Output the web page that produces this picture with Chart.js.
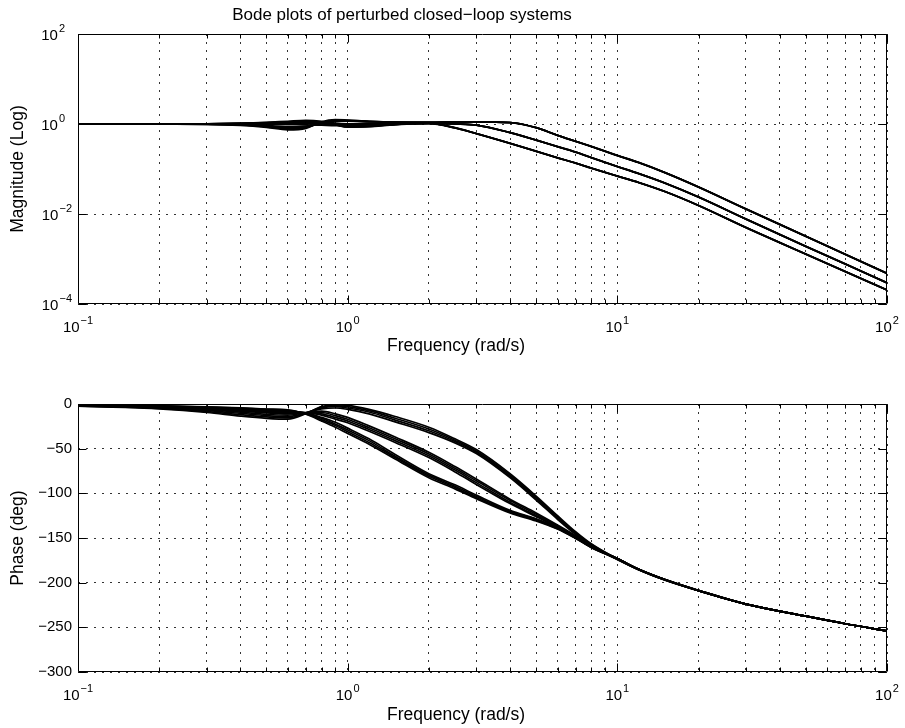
<!DOCTYPE html>
<html><head><meta charset="utf-8">
<script src="https://cdn.jsdelivr.net/npm/chart.js@4.4.1/dist/chart.umd.min.js"></script>
<style>
html,body{margin:0;padding:0;background:#fff;width:905px;height:728px;overflow:hidden}
canvas{position:absolute;left:0}
#c1{top:0}
#c2{top:364px}
</style></head><body>
<canvas id="c1" width="905" height="364"></canvas>
<canvas id="c2" width="905" height="364"></canvas>
<script>
// ---------- data ----------
const freq = [0.1,0.15,0.2,0.3,0.4,0.5,0.6,0.7,0.8,0.9,1,1.2,1.5,2,2.5,3,4,5,6,7,8,10,12,15,20,30,50,70,100];
const xTickValues = [0.1,0.2,0.3,0.4,0.5,0.6,0.7,0.8,0.9,1,2,3,4,5,6,7,8,9,10,20,30,40,50,60,70,80,90,100];
const xMajorTicks = [0.1,1,10,100];
const magTickValues = [1e-4,1e-2,1,100];
const phaseTickValues = [0,-50,-100,-150,-200,-250,-300];

// magnitude (absolute) per perturbed system
const magA1 = [1,1,0.99,0.98,0.93,0.84,0.74,0.8,1.12,1.25,1.22,1.15,1.1,1.09,1.11,1.12,1.08,0.83,0.56,0.413,0.318,0.2,0.139,0.0835,0.0398,0.0129,0.0032,0.00127,0.00048];
const magA2 = [1,1,0.99,0.985,0.95,0.87,0.78,0.83,1.08,1.21,1.2,1.14,1.1,1.09,1.11,1.12,1.08,0.83,0.561,0.414,0.319,0.201,0.14,0.0838,0.04,0.013,0.00321,0.00128,0.000482];
const magA3 = [1,1,0.995,0.99,0.96,0.9,0.82,0.86,1.04,1.17,1.18,1.13,1.1,1.09,1.11,1.115,1.075,0.828,0.559,0.412,0.317,0.199,0.139,0.0832,0.0397,0.0129,0.00319,0.00127,0.000479];
const magA4 = [1,1,0.995,0.99,0.97,0.93,0.86,0.9,1.01,1.12,1.15,1.12,1.09,1.085,1.105,1.115,1.075,0.826,0.558,0.411,0.316,0.198,0.138,0.083,0.0396,0.0128,0.00318,0.00126,0.000477];
const magB1 = [1,1,1,1.01,1.03,1.06,1.09,1.1,1.06,1.02,1.01,1.03,1.05,1.05,1.01,0.95,0.647,0.44,0.316,0.239,0.18,0.114,0.0794,0.0489,0.0239,0.00774,0.00192,0.000779,0.000297];
const magB2 = [1,1,1,1.005,1.02,1.04,1.06,1.07,1.04,1.0,0.98,1.0,1.04,1.05,1.01,0.948,0.645,0.439,0.315,0.238,0.18,0.114,0.0792,0.0488,0.0238,0.00772,0.00191,0.000777,0.000296];
const magB3 = [1,1,1,1.0,1.01,1.02,1.03,1.03,1.01,0.97,0.95,0.98,1.03,1.045,1.008,0.946,0.643,0.438,0.314,0.237,0.179,0.1135,0.079,0.0487,0.0238,0.0077,0.0019,0.000775,0.000295];
const magB4 = [1,1,1,0.995,0.99,0.98,0.97,0.96,0.94,0.92,0.92,0.96,1.02,1.045,1.006,0.944,0.641,0.437,0.313,0.236,0.178,0.113,0.0788,0.0486,0.0237,0.00768,0.00189,0.000772,0.000294];
const magC1 = [1,1,1,1.01,1.04,1.09,1.15,1.2,1.14,1.0,0.89,0.9,0.98,1.03,0.83,0.615,0.374,0.249,0.178,0.136,0.105,0.0698,0.0502,0.0316,0.0155,0.00501,0.00129,0.000527,0.000205];
const magC2 = [1,1,1,1.005,1.03,1.07,1.12,1.16,1.11,0.98,0.87,0.89,0.98,1.03,0.825,0.614,0.373,0.248,0.178,0.136,0.105,0.0697,0.0501,0.0316,0.0155,0.005,0.00129,0.000526,0.000205];
const magC3 = [1,1,1,1.0,1.02,1.05,1.09,1.12,1.08,0.96,0.86,0.88,0.97,1.025,0.82,0.612,0.372,0.248,0.177,0.135,0.1045,0.0695,0.05,0.0315,0.0154,0.00499,0.00128,0.000525,0.000204];
const magC4 = [1,1,1,1.0,1.01,1.03,1.06,1.08,1.05,0.95,0.85,0.87,0.97,1.02,0.815,0.61,0.371,0.247,0.177,0.135,0.104,0.0693,0.0499,0.0315,0.0154,0.00498,0.00128,0.000524,0.000204];

// phase (deg) per perturbed system
const phA1 = [-2.5,-3.8,-5.5,-9.5,-13.5,-16,-17,-11,-3,-1,-1.5,-6,-14,-26,-39,-51,-78,-103,-125,-143,-156.5,-173.5,-185.5,-197,-209,-224,-237.5,-246,-254];
const phA2 = [-2.2,-3.4,-5,-8.5,-12,-14.5,-15.5,-10.5,-3.5,-2,-3,-7.5,-16,-28,-40.5,-52.5,-79.5,-104.5,-126.5,-144,-157,-173.5,-185.5,-197,-209,-224,-237.5,-246,-254];
const phA3 = [-2,-3,-4.5,-7.5,-10.5,-13,-14,-10,-4.5,-3,-4.5,-9,-18,-30,-42,-54,-81,-106,-128,-145,-158,-174,-185.5,-197,-209,-224,-237.5,-246,-254];
const phA4 = [-1.8,-2.7,-4,-6.5,-9,-11.5,-12.5,-9.5,-5.5,-4.5,-6,-11,-20,-32,-43.5,-55.5,-82.5,-107.5,-129,-146,-159,-174,-185.5,-197,-209,-224,-237.5,-246,-254];
const phB1 = [-1.6,-2.4,-3.5,-5.8,-8,-10,-11,-10,-8,-11,-15,-24.5,-37,-54,-70,-84,-106.5,-122,-135.5,-147.5,-159,-173,-185,-196.5,-209,-224,-237.5,-246,-254];
const phB2 = [-1.5,-2.2,-3.2,-5.2,-7.2,-9,-10,-10,-9.5,-13,-17,-26.5,-39,-56,-72,-86,-108,-123.5,-136.5,-148,-159.5,-173,-185,-196.5,-209,-224,-237.5,-246,-254];
const phB3 = [-1.4,-2.1,-3,-4.8,-6.5,-8.2,-9.2,-10,-11,-15,-19,-28.5,-41,-58,-74,-88,-110,-125,-137.5,-149,-160,-173,-185,-196.5,-209,-224,-237.5,-246,-254];
const phB4 = [-1.3,-2,-2.8,-4.5,-6,-7.5,-8.5,-10,-12.5,-17,-21,-30.5,-43,-60,-76,-90,-111.5,-126,-138.5,-150,-160.5,-173.5,-185,-196.5,-209,-224,-237.5,-246,-254];
const phC1 = [-1.2,-1.8,-2.6,-4,-5.5,-7,-8,-10,-15,-20.5,-27,-39,-56.5,-78,-90.5,-102,-119,-128.5,-138.5,-149,-159.5,-173,-185,-196.5,-208.5,-224,-237.5,-246,-254];
const phC2 = [-1.1,-1.7,-2.4,-3.7,-5,-6.5,-7.5,-10.5,-16,-22.5,-29,-41,-58.5,-79.5,-92,-103.5,-120,-129,-139,-149.5,-160,-173,-185,-196.5,-208.5,-224,-237.5,-246,-254];
const phC3 = [-1,-1.5,-2.2,-3.4,-4.7,-6,-7,-11,-17.5,-24,-31,-43,-60,-81,-93.5,-105,-121,-130,-139.5,-150,-160,-173,-185,-196.5,-208.5,-224,-237.5,-246,-254];
const phC4 = [-1,-1.4,-2,-3.2,-4.4,-5.7,-6.6,-11.5,-19,-26,-33,-45,-61.5,-82.5,-95,-106,-122,-131,-140,-150.5,-160.5,-173.5,-185,-196.5,-208.5,-224,-237.5,-246,-254];

const magCurves = [magA1,magA2,magA3,magA4,magB1,magB2,magB3,magB4,magC1,magC2,magC3,magC4];
const phaseCurves = [phA1,phA2,phA3,phA4,phB1,phB2,phB3,phB4,phC1,phC2,phC3,phC4];

const titleText = 'Bode plots of perturbed closed\u2212loop systems';
const xLabelText = 'Frequency (rad/s)';
const magLabelText = 'Magnitude (Log)';
const phaseLabelText = 'Phase (deg)';

// ---------- drawing ----------
const FONT = '"Liberation Sans", Arial, Helvetica, sans-serif';
const TICK_PX = 15, EXP_PX = 11, LABEL_PX = 17.5;

function powLabel(ctx, exp, x, baseY, align) {
  const expStr = exp < 0 ? '\u2212' + Math.abs(exp) : String(exp);
  ctx.font = TICK_PX + 'px ' + FONT;
  const wb = ctx.measureText('10').width;
  ctx.font = EXP_PX + 'px ' + FONT;
  const we = ctx.measureText(expStr).width;
  const total = wb + 1 + we;
  const left = align === 'center' ? x - total / 2 : x - total;
  ctx.textAlign = 'left';
  ctx.textBaseline = 'alphabetic';
  ctx.font = TICK_PX + 'px ' + FONT;
  ctx.fillText('10', left, baseY);
  ctx.font = EXP_PX + 'px ' + FONT;
  ctx.fillText(expStr, left + wb + 1, baseY - 8);
}

const framePlugin = {
  id: 'frame',
  afterDraw(chart, args, o) {
    const ctx = chart.ctx, a = chart.chartArea, xs = chart.scales.x, ys = chart.scales.y;
    ctx.save();
    ctx.strokeStyle = '#000';
    ctx.lineWidth = 1;
    const L = Math.round(a.left) + 0.5, R = Math.round(a.right) - 0.5, T = Math.round(a.top) + 0.5, B = Math.round(a.bottom) - 0.5;
    ctx.beginPath();
    ctx.rect(L, T, R - L, B - T);
    for (const v of xTickValues) {
      const px = Math.round(xs.getPixelForValue(v)) + 0.5;
      const len = xMajorTicks.includes(v) ? 8 : 4;
      ctx.moveTo(px, B); ctx.lineTo(px, B - len);
      ctx.moveTo(px, T); ctx.lineTo(px, T + len);
    }
    for (const v of o.yTicks) {
      const py = Math.round(ys.getPixelForValue(v)) + 0.5;
      ctx.moveTo(L, py); ctx.lineTo(L + 8, py);
      ctx.moveTo(R, py); ctx.lineTo(R - 8, py);
    }
    ctx.stroke();
    ctx.fillStyle = '#000';
    for (const v of xMajorTicks) {
      powLabel(ctx, Math.round(Math.log10(v)), xs.getPixelForValue(v), a.bottom + 28, 'center');
    }
    if (o.logY) {
      for (const v of o.yTicks) {
        const e = Math.round(Math.log10(v));
        powLabel(ctx, e, e < 0 ? 72 : 65, ys.getPixelForValue(v) + 6, 'right');
      }
    }
    ctx.font = LABEL_PX + 'px ' + FONT;
    ctx.textAlign = 'center';
    ctx.textBaseline = 'alphabetic';
    ctx.fillText(xLabelText, 456, a.bottom + o.xLabelGap);
    ctx.save();
    ctx.translate(23, (a.top + a.bottom) / 2);
    ctx.rotate(-Math.PI / 2);
    ctx.fillText(o.yLabel, 0, 0);
    ctx.restore();
    if (o.title) {
      ctx.font = '17px ' + FONT;
      ctx.fillText(o.title, 402, 20);
    }
    ctx.restore();
  }
};

function makeDatasets(curves) {
  return curves.map((vals, k) => ({
    label: 'system ' + (k + 1),
    data: freq.map((f, i) => ({ x: f, y: vals[i] })),
    borderColor: '#000',
    borderWidth: 1.7,
    pointRadius: 0,
    fill: false,
    cubicInterpolationMode: 'monotone'
  }));
}

const GRID = { color: 'rgba(0,0,0,0.8)', lineWidth: 1, drawTicks: false };
const GRID_BORDER = { display: false, dash: [2, 6] };

const xScale = (h) => ({
  type: 'logarithmic', position: 'bottom', min: 0.1, max: 100,
  afterBuildTicks: s => { s.ticks = xTickValues.map(v => ({ value: v })); },
  afterFit: s => { s.height = h; },
  ticks: { display: false },
  grid: GRID,
  border: GRID_BORDER
});

const common = {
  responsive: false, animation: false, devicePixelRatio: 1,
  events: [],
  plugins: { legend: { display: false }, tooltip: { enabled: false } }
};

new Chart(document.getElementById('c1'), {
  type: 'line',
  data: { datasets: makeDatasets(magCurves) },
  plugins: [framePlugin],
  options: Object.assign({}, common, {
    layout: { padding: { top: 34, right: 18, left: 0, bottom: 0 } },
    scales: {
      x: xScale(60),
      y: {
        type: 'logarithmic', min: 1e-4, max: 100,
        afterBuildTicks: s => { s.ticks = magTickValues.map(v => ({ value: v })); },
        afterFit: s => { s.width = 78; },
        ticks: { display: false },
        grid: GRID,
        border: GRID_BORDER
      }
    },
    plugins: Object.assign({}, common.plugins, {
      frame: { yTicks: magTickValues, logY: true, yLabel: magLabelText, title: titleText, xLabelGap: 47 }
    })
  })
});

new Chart(document.getElementById('c2'), {
  type: 'line',
  data: { datasets: makeDatasets(phaseCurves) },
  plugins: [framePlugin],
  options: Object.assign({}, common, {
    layout: { padding: { top: 40, right: 18, left: 0, bottom: 0 } },
    scales: {
      x: xScale(56),
      y: {
        type: 'linear', min: -300, max: 0,
        afterBuildTicks: s => { s.ticks = phaseTickValues.map(v => ({ value: v })); },
        afterFit: s => { s.width = 78; },
        ticks: {
          padding: 6, color: '#000',
          font: { family: FONT, size: TICK_PX },
          callback: v => (v === 0 ? '0' : '\u2212' + Math.abs(v))
        },
        grid: GRID,
        border: GRID_BORDER
      }
    },
    plugins: Object.assign({}, common.plugins, {
      frame: { yTicks: phaseTickValues, logY: false, yLabel: phaseLabelText, title: null, xLabelGap: 48 }
    })
  })
});
</script>
</body></html>
